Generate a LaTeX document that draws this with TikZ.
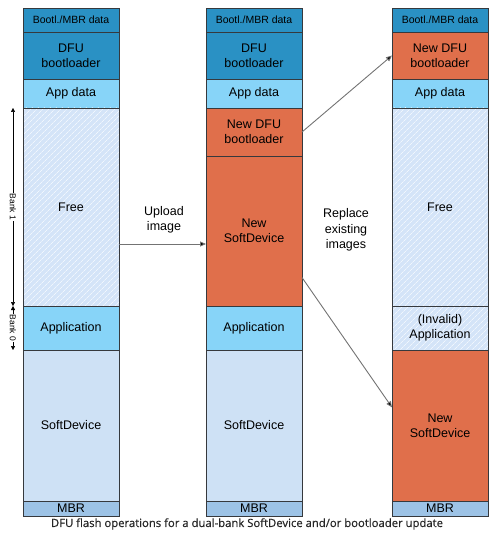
\documentclass[tikz,border=0pt]{standalone}
\usepackage{fontspec}
\setmainfont{Liberation Sans}
\newfontfamily\capfont[FakeBold=0.5]{Open Sans}
\usetikzlibrary{positioning}
\usetikzlibrary{arrows.meta}
\usetikzlibrary{patterns.meta}
\usetikzlibrary{calc}

\definecolor{bootblue}{HTML}{2A91C4}
\definecolor{appblue}{HTML}{87D4F8}
\definecolor{sdblue}{HTML}{CEE1F5}
\definecolor{mbrblue}{HTML}{9DC3E6}
\definecolor{freeblue}{HTML}{D4E4F8}
\definecolor{neworange}{HTML}{E06F4B}
\definecolor{edgegray}{HTML}{36393D}

\tikzset{
    seg/.style={draw=edgegray, line width=0.9pt, minimum width=96pt,
        inner sep=0pt, outer sep=0pt, align=center,
        font=\fontsize{12.5}{15}\selectfont},
    bootl/.style={seg, fill=bootblue, minimum height=24pt,
        font=\fontsize{10.5}{12}\selectfont},
    dfu/.style={seg, fill=bootblue, minimum height=47pt},
    newdfu/.style={seg, fill=neworange, minimum height=#1},
    appdata/.style={seg, fill=appblue, minimum height=29pt},
    hatched/.style={preaction={fill=freeblue},
        pattern={Lines[angle=45, distance=4pt, line width=0.8pt]},
        pattern color=white!65!freeblue},
    freespace/.style={seg, hatched, minimum height=198pt},
    appl/.style={seg, fill=appblue, minimum height=44pt},
    sd/.style={seg, fill=sdblue, minimum height=151pt},
    newsd/.style={seg, fill=neworange, minimum height=#1},
    mbr/.style={seg, fill=mbrblue, minimum height=15pt},
    flow/.style={draw=black!55, line width=0.9pt,
        -{Triangle[length=6pt, width=5pt, fill=black]}},
    bank/.style={line width=0.5pt,
        {Triangle[length=4pt, width=4pt]}-{Triangle[length=4pt, width=4pt]}},
    banklbl/.style={fill=white, inner sep=0.5pt, rotate=-90,
        font=\fontsize{8.5}{10}\selectfont},
    note/.style={align=center, font=\fontsize{12.5}{15.5}\selectfont}
}

\begin{document}
\begin{tikzpicture}[x=1pt, y=-1pt]
    \useasboundingbox (0,0) rectangle (503,534);

    % before the update
    \node[bootl, anchor=north west] (lbootl) at (23,8) {Bootl./MBR data};
    \node[dfu, below=0pt of lbootl] (ldfu) {DFU\\bootloader};
    \node[appdata, below=0pt of ldfu] (lappdata) {App data};
    \node[freespace, below=0pt of lappdata] (lfree) {Free};
    \node[appl, below=0pt of lfree] (lappl) {Application};
    \node[sd, below=0pt of lappl] (lsd) {SoftDevice};
    \node[mbr, below=0pt of lsd] (lmbr) {MBR};

    \draw[bank] ([xshift=-10pt]lfree.north west) -- node[banklbl] {Bank 1}
        ([xshift=-10pt]lfree.south west);
    \draw[bank] ([xshift=-10pt]lappl.north west) -- node[banklbl] {Bank 0}
        ([xshift=-10pt]lappl.south west);

    % images uploaded to bank 1
    \node[bootl, anchor=north west] (mbootl) at (206,8) {Bootl./MBR data};
    \node[dfu, below=0pt of mbootl] (mdfu) {DFU\\bootloader};
    \node[appdata, below=0pt of mdfu] (mappdata) {App data};
    \node[newdfu=48pt, below=0pt of mappdata] (mnewdfu) {New DFU\\bootloader};
    \node[newsd=150pt, below=0pt of mnewdfu] (mnewsd) {New\\SoftDevice};
    \node[appl, below=0pt of mnewsd] (mappl) {Application};
    \node[sd, below=0pt of mappl] (msd) {SoftDevice};
    \node[mbr, below=0pt of msd] (mmbr) {MBR};

    % after the images are replaced
    \node[bootl, anchor=north west] (rbootl) at (392,8) {Bootl./MBR data};
    \node[newdfu=47pt, below=0pt of rbootl] (rnewdfu) {New DFU\\bootloader};
    \node[appdata, below=0pt of rnewdfu] (rappdata) {App data};
    \node[freespace, below=0pt of rappdata] (rfree) {Free};
    \node[appl, hatched, below=0pt of rfree] (rinvalid) {(Invalid)\\Application};
    \node[newsd=151pt, below=0pt of rinvalid] (rnewsd) {New\\SoftDevice};
    \node[mbr, below=0pt of rnewsd] (rmbr) {MBR};

    \coordinate (uploady) at (0,244);
    \node[note] (upload) at (164,220) {Upload\\image};
    \draw[flow] (lfree.east |- uploady) -- (mnewsd.west |- uploady);

    \node[note] (replace) at (346,230) {Replace\\existing\\images};
    \draw[flow] (mnewdfu.east) -- (rnewdfu.west);
    \draw[flow] ($(mnewsd.north east)!0.81!(mnewsd.south east)$)
        -- ($(rnewsd.north west)!0.38!(rnewsd.south west)$);

    \node[font=\capfont\fontsize{11.3}{13}\selectfont, text=black!85] (caption)
        at (247,524)
        {DFU flash operations for a dual-bank SoftDevice and/or bootloader update};
\end{tikzpicture}
\end{document}
